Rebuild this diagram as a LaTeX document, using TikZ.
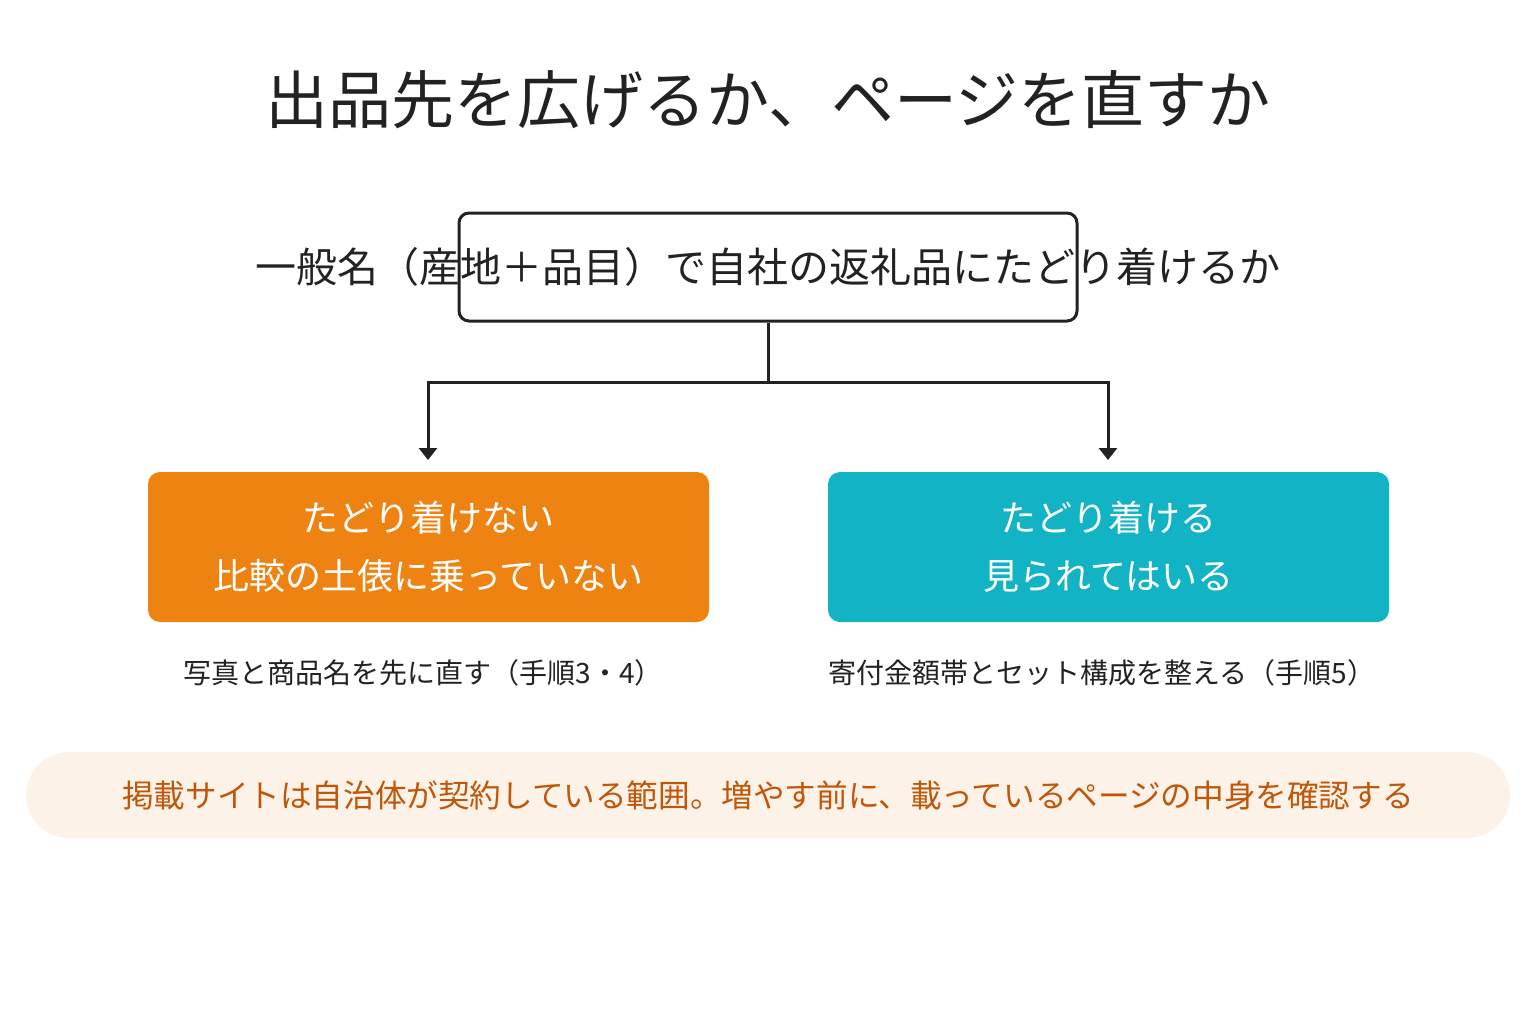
\documentclass[tikz,border=0pt]{standalone}
\usepackage{fontspec}
\setmainfont{Noto Sans CJK JP}
\usetikzlibrary{arrows.meta,positioning}
\definecolor{ink}{HTML}{222222}
\definecolor{orng}{HTML}{EF8311}
\definecolor{teal}{HTML}{13B3C6}
\definecolor{pale}{HTML}{FDF2E7}
\definecolor{rust}{HTML}{C0560A}
\tikzset{
  box/.style={rounded corners=6pt, minimum width=280.5pt, minimum height=75pt, text=white, align=center, font=\fontsize{18}{29}\selectfont},
  caption/.style={text=ink, font=\fontsize{14}{16}\selectfont},
  link/.style={draw=ink, line width=1.5pt},
}
\begin{document}
\begin{tikzpicture}[x=0.5pt,y=-0.5pt]
\useasboundingbox (0,0) rectangle (1536,1024);
\node[text=ink, font=\fontsize{31.5}{36}\selectfont] (title) at (768,100) {出品先を広げるか、ページを直すか};

\node[draw=ink, line width=1.5pt, rounded corners=5pt, minimum width=309pt, minimum height=54pt] (q) at (768,267) {};
\node[text=ink, font=\fontsize{20.5}{24}\selectfont] (qtext) at (768,267) {一般名（産地＋品目）で自社の返礼品にたどり着けるか};

\node[box, fill=orng] (no) at (428.5,547) {たどり着けない\\比較の土俵に乗っていない};
\node[box, fill=teal] (yes) at (1108.5,547) {たどり着ける\\見られてはいる};

\coordinate (fork) at (768,382);
\coordinate (nofork) at (428,382);
\coordinate (yesfork) at (1108,382);
\coordinate (noend) at (428,460);
\coordinate (yesend) at (1108,460);
\path[link] (q.south) -- (fork);
\path[link,-{Triangle[width=9pt,length=6pt]}] (fork) -- (nofork) -- (noend);
\path[link,-{Triangle[width=9pt,length=6pt]}] (fork) -- (yesfork) -- (yesend);

\node[caption] (nocap) at (423,673) {写真と商品名を先に直す（手順3・4）};
\node[caption] (yescap) at (1102,673) {寄付金額帯とセット構成を整える（手順5）};

\node[fill=pale, rounded corners=21.5pt, minimum width=742pt, minimum height=43pt, text=rust, font=\fontsize{15.8}{18}\selectfont] (note) at (768,795) {掲載サイトは自治体が契約している範囲。増やす前に、載っているページの中身を確認する};
\end{tikzpicture}
\end{document}
